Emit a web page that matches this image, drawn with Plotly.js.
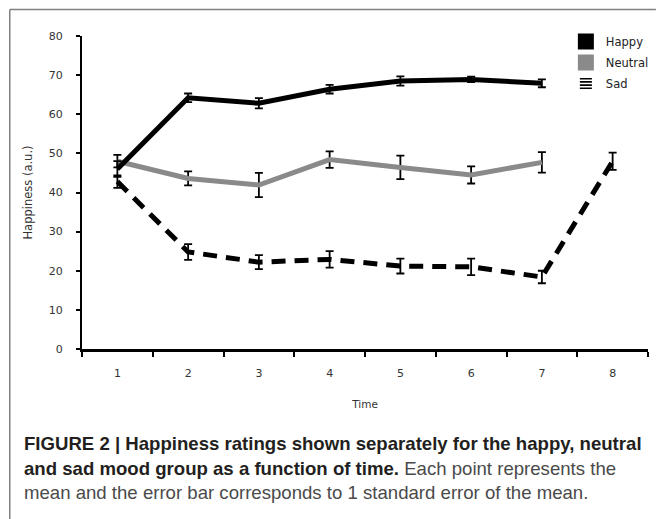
<!DOCTYPE html>
<html>
<head>
<meta charset="utf-8">
<script src="https://cdn.plot.ly/plotly-3.0.1.min.js"></script>
<style>
  html, body { margin: 0; padding: 0; background: #fff; }
  #chart { width: 657px; height: 519px; }
</style>
</head>
<body>
<div id="chart"></div>
<script>
// ---- data ----
const timePoints = ['1', '2', '3', '4', '5', '6', '7', '8'];

const happyMean = [46.0, 64.2, 62.8, 66.4, 68.5, 68.9, 67.9, null];
const happySE   = [2.0, 1.1, 1.3, 1.1, 1.2, 0.7, 1.0, null];

const neutralMean = [48.0, 43.6, 41.9, 48.4, 46.4, 44.5, 47.7, null];
const neutralSE   = [1.6, 1.8, 3.1, 2.1, 3.0, 2.2, 2.6, null];

const sadMean = [42.8, 24.8, 22.2, 22.9, 21.2, 21.0, 18.4, 48.0];
const sadSE   = [1.6, 2.0, 1.8, 2.1, 1.9, 2.1, 1.6, 2.2];

const seriesNames = ['Happy', 'Neutral', 'Sad'];
const yTitle = 'Happiness (a.u.)';
const xTitle = 'Time';
const captionLines = [
  '<b>FIGURE 2 | Happiness ratings shown separately for the happy, neutral</b>',
  '<b>and sad mood group as a function of time.</b><span style="color:#4a4a4a"> Each point represents the</span>',
  '<span style="color:#4a4a4a">mean and the error bar corresponds to 1 standard error of the mean.</span>'
];

// ---- geometry helpers (plot area in px) ----
const W = 657, H = 519;
const M = { l: 82, r: 3, t: 36, b: 170 };
const PW = W - M.l - M.r, PH = H - M.t - M.b;
const px2x = v => (v - M.l) / PW;
const px2y = v => (H - M.b - v) / PH;

const errStyle = { type: 'data', visible: true, color: '#000', thickness: 1.8, width: 4 };

const traces = [
  {
    type: 'scatter', mode: 'lines', name: seriesNames[2], showlegend: false,
    x: timePoints, y: sadMean,
    line: { color: '#000', width: 5, dash: '14px,9px' },
    error_y: Object.assign({ array: sadSE }, errStyle)
  },
  {
    type: 'scatter', mode: 'lines', name: seriesNames[1], showlegend: false,
    x: timePoints, y: neutralMean,
    line: { color: '#8a8a8a', width: 5 },
    error_y: Object.assign({ array: neutralSE }, errStyle)
  },
  {
    type: 'scatter', mode: 'lines', name: seriesNames[0], showlegend: false,
    x: timePoints, y: happyMean,
    line: { color: '#000', width: 5 },
    error_y: Object.assign({ array: happySE }, errStyle)
  },
  // legend keys (nothing drawn in the plot: values are null)
  { type: 'scatter', mode: 'markers', x: [timePoints[0]], y: [null], name: seriesNames[0], legendgroup: 'a', showlegend: true,
    marker: { color: '#000', symbol: 'square', size: 17, line: { width: 0 } } },
  { type: 'scatter', mode: 'markers', x: [timePoints[0]], y: [null], name: seriesNames[1], legendgroup: 'b', showlegend: true,
    marker: { color: '#8a8a8a', symbol: 'square', size: 17, line: { width: 0 } } },
  { type: 'bar', x: [timePoints[0]], y: [null], name: seriesNames[2], legendgroup: 'c', showlegend: true,
    marker: { color: '#fff', line: { width: 0 },
      pattern: { shape: '-', fgcolor: '#000', bgcolor: '#fff', size: 4, solidity: 0.5 } } }
];

const axisFont = { family: 'DejaVu Sans, Verdana, sans-serif', size: 11, color: '#333' };

const annotations = captionLines.map((t, i) => ({
  xref: 'paper', yref: 'paper',
  x: px2x(21), y: px2y([443, 468, 492][i]),
  xanchor: 'left', yanchor: 'middle',
  text: t, showarrow: false, align: 'left',
  font: { family: 'Liberation Sans, Arial, sans-serif', size: 18.6, color: '#231f20' }
}));

const layout = {
  width: W, height: H,
  margin: M,
  paper_bgcolor: '#fff', plot_bgcolor: '#fff',
  showlegend: true,
  legend: {
    x: px2x(571), y: px2y(27), xanchor: 'left', yanchor: 'top',
    font: { family: 'DejaVu Sans, Verdana, sans-serif', size: 11.5, color: '#222' },
    tracegroupgap: 2, bgcolor: 'rgba(0,0,0,0)', traceorder: 'grouped'
  },
  xaxis: {
    type: 'category', categoryorder: 'array', categoryarray: timePoints,
    range: [-0.5, 7.5], tickson: 'boundaries',
    ticks: 'outside', ticklen: 5, tickwidth: 2, tickcolor: '#000',
    showline: true, linewidth: 3, linecolor: '#000',
    showgrid: false, zeroline: false,
    tickfont: axisFont, ticklabelstandoff: 12,
    title: { text: xTitle, font: { family: 'DejaVu Sans, Verdana, sans-serif', size: 10.5, color: '#333' }, standoff: 22 },
    fixedrange: true
  },
  yaxis: {
    range: [0, 80], dtick: 10, tick0: 0,
    ticks: 'outside', ticklen: 4, tickwidth: 2, tickcolor: '#000',
    showline: true, linewidth: 2, linecolor: '#000',
    showgrid: false, zeroline: false,
    tickfont: axisFont, ticklabelstandoff: 11,
    title: { text: yTitle, font: { family: 'DejaVu Sans, Verdana, sans-serif', size: 11.5, color: '#333' }, standoff: 14 },
    fixedrange: true
  },
  shapes: [
    { type: 'line', xref: 'paper', yref: 'paper', x0: px2x(9), x1: px2x(W + 5), y0: px2y(9.5), y1: px2y(9.5),
      line: { color: '#808080', width: 1.5 } },
    { type: 'line', xref: 'paper', yref: 'paper', x0: px2x(9), x1: px2x(9), y0: px2y(9.5), y1: px2y(H + 5),
      line: { color: '#808080', width: 1.5 } }
  ],
  annotations: annotations
};

Plotly.newPlot('chart', traces, layout, { displayModeBar: false, staticPlot: true });
</script>
</body>
</html>
